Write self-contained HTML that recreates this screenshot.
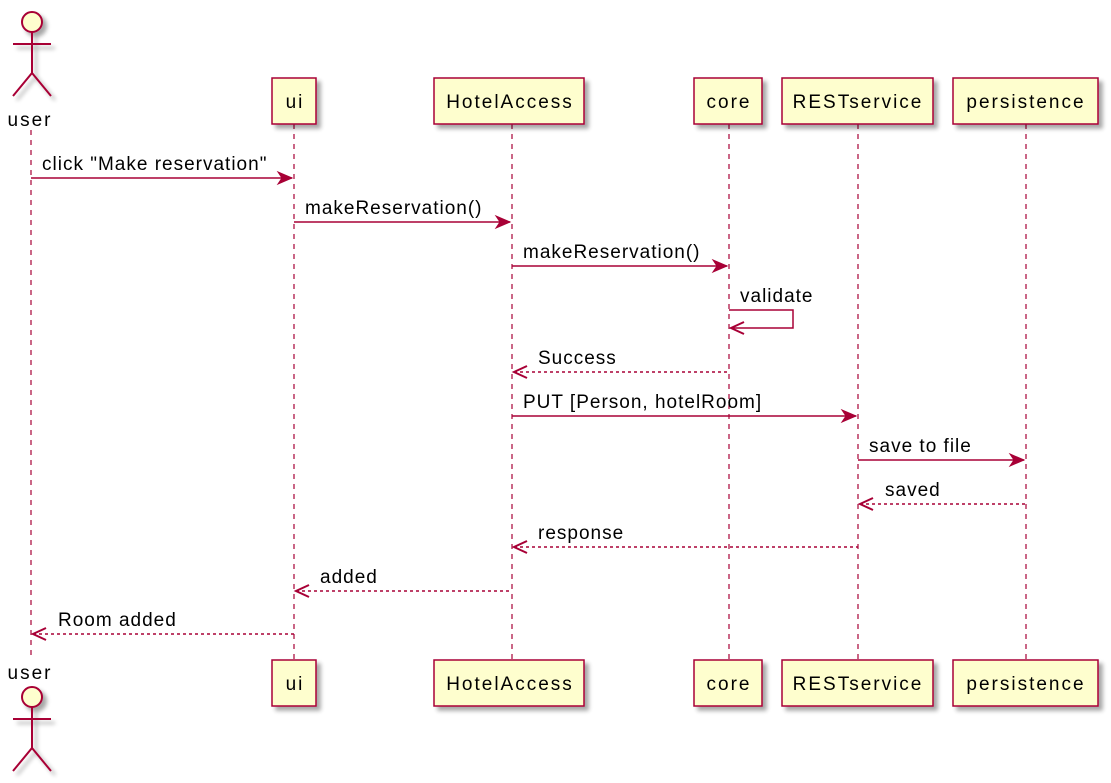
<!DOCTYPE html>
<html><head><style>body{margin:0;background:#fff}svg{display:block}text{font-family:"Liberation Sans",sans-serif;font-size:19px;fill:#000;letter-spacing:1px}.b{letter-spacing:2px}</style></head><body>
<svg width="1111" height="783" xmlns="http://www.w3.org/2000/svg">
<defs>
<filter id="sh" x="-20%" y="-20%" width="150%" height="150%"><feGaussianBlur in="SourceAlpha" stdDeviation="2"/><feOffset dx="4" dy="4"/><feComponentTransfer><feFuncA type="linear" slope="0.35"/></feComponentTransfer><feMerge><feMergeNode/><feMergeNode in="SourceGraphic"/></feMerge></filter>
</defs>
<g stroke="#A80036" stroke-width="1.2" stroke-dasharray="5,5">
<line x1="31" y1="130" x2="31" y2="660"/><line x1="294" y1="124" x2="294" y2="660"/><line x1="512" y1="124" x2="512" y2="660"/><line x1="729" y1="124" x2="729" y2="660"/><line x1="858" y1="124" x2="858" y2="660"/><line x1="1026" y1="124" x2="1026" y2="660"/>
</g>
<g fill="#FEFECE" stroke="#A80036" stroke-width="1.5" filter="url(#sh)">
<rect x="272" y="78" width="44" height="46"/><rect x="434" y="78" width="150" height="46"/><rect x="694" y="78" width="68" height="46"/><rect x="782" y="78" width="151" height="46"/><rect x="953" y="78" width="145" height="46"/>
<rect x="272" y="660" width="44" height="46"/><rect x="434" y="660" width="150" height="46"/><rect x="694" y="660" width="68" height="46"/><rect x="782" y="660" width="151" height="46"/><rect x="953" y="660" width="145" height="46"/>
</g>
<g text-anchor="middle" class="b">
<text class="b" x="295" y="108">ui</text><text class="b" x="510" y="108">HotelAccess</text><text class="b" x="729" y="108">core</text><text class="b" x="858" y="108">RESTservice</text><text class="b" x="1026" y="108">persistence</text>
<text class="b" x="295" y="690">ui</text><text class="b" x="510" y="690">HotelAccess</text><text class="b" x="729" y="690">core</text><text class="b" x="858" y="690">RESTservice</text><text class="b" x="1026" y="690">persistence</text>
<text class="b" x="30" y="126">user</text><text class="b" x="30" y="679">user</text>
</g>
<g stroke="#A80036" stroke-width="2" fill="none" filter="url(#sh)">
<circle cx="32" cy="22" r="10" fill="#FEFECE"/><line x1="32" y1="32" x2="32" y2="73"/><line x1="13" y1="44" x2="51" y2="44"/><path d="M13 96 L32 73 L51 96"/>
<circle cx="32" cy="697" r="10" fill="#FEFECE"/><line x1="32" y1="707" x2="32" y2="748"/><line x1="13" y1="719" x2="51" y2="719"/><path d="M13 771 L32 748 L51 771"/>
</g>
<g stroke="#A80036" stroke-width="1.5" fill="none">
<line x1="31" y1="178" x2="292" y2="178"/><line x1="294" y1="222" x2="510" y2="222"/><line x1="512" y1="266" x2="727" y2="266"/>
<path d="M729 310 H793 V328 H731"/>
<line x1="514" y1="372" x2="729" y2="372" stroke-dasharray="3,3"/>
<line x1="512" y1="416" x2="856" y2="416"/><line x1="858" y1="460" x2="1024" y2="460"/>
<line x1="860" y1="504" x2="1026" y2="504" stroke-dasharray="3,3"/>
<line x1="514" y1="547" x2="858" y2="547" stroke-dasharray="3,3"/>
<line x1="296" y1="591" x2="512" y2="591" stroke-dasharray="3,3"/>
<line x1="33" y1="634" x2="294" y2="634" stroke-dasharray="3,3"/>
</g>
<g fill="#A80036" stroke="#A80036">
<path d="M292 178 l-14 -6 l4 6 l-4 6z"/><path d="M510 222 l-14 -6 l4 6 l-4 6z"/><path d="M727 266 l-14 -6 l4 6 l-4 6z"/><path d="M856 416 l-14 -6 l4 6 l-4 6z"/><path d="M1024 460 l-14 -6 l4 6 l-4 6z"/>
</g>
<g stroke="#A80036" stroke-width="2" fill="none">
<path d="M744 322 L731 328 L744 334"/><path d="M527 366 L514 372 L527 378"/><path d="M873 498 L860 504 L873 510"/><path d="M527 541 L514 547 L527 553"/><path d="M309 585 L296 591 L309 597"/><path d="M46 628 L33 634 L46 640"/>
</g>
<text x="42" y="170">click "Make reservation"</text>
<text x="305" y="214">makeReservation()</text>
<text x="523" y="258">makeReservation()</text>
<text x="740" y="302">validate</text>
<text x="538" y="364">Success</text>
<text x="523" y="408">PUT [Person, hotelRoom]</text>
<text x="869" y="452">save to file</text>
<text x="885" y="496">saved</text>
<text x="538" y="539">response</text>
<text x="320" y="583">added</text>
<text x="58" y="626">Room added</text>
</svg>
</body></html>
